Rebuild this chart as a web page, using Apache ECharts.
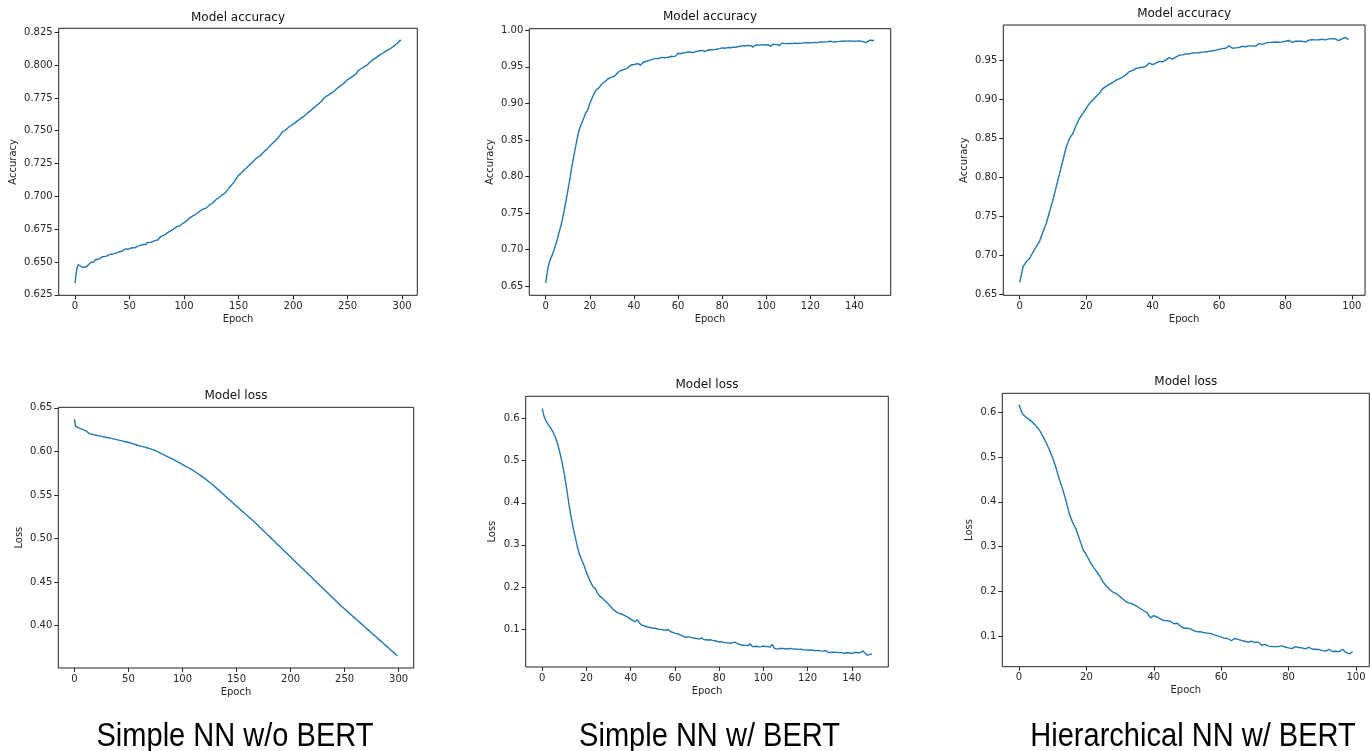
<!DOCTYPE html>
<html><head><meta charset="utf-8">
<script src="https://cdn.jsdelivr.net/npm/echarts@6/dist/echarts.min.js"></script>
<style>html,body{margin:0;padding:0;background:#fff}#c{width:1370px;height:751px}</style>
</head><body><div id="c"></div>
<script>
// ---------- DATA ----------
const acc1 = [
0.634,0.641,0.646,0.648,0.6475,0.647,0.6465,0.646,0.6458,0.6462,
0.647,0.6468,0.6478,0.6485,0.649,0.650,0.6505,0.6498,0.6512,0.652,
0.6525,0.652,0.6532,0.6528,0.6538,0.654,0.6535,0.6542,0.6548,0.6545,
0.655,0.6555,0.6552,0.656,0.6565,0.6562,0.657,0.6568,0.6575,0.6572,
0.6575,0.658,0.6585,0.658,0.659,0.6595,0.6588,0.660,0.6592,0.6598,
0.660,0.6605,0.660,0.661,0.6612,0.6608,0.6618,0.662,0.6615,0.6625,
0.662,0.663,0.6628,0.6635,0.664,0.6632,0.6648,0.6642,0.665,0.6648,
0.665,0.6655,0.666,0.6658,0.6665,0.667,0.6668,0.668,0.669,0.6695,
0.670,0.6712,0.6705,0.672,0.6718,0.6728,0.673,0.6738,0.674,0.6745,
0.675,0.6755,0.6762,0.6765,0.6772,0.6778,0.6775,0.6785,0.679,0.6798,
0.680,0.6808,0.681,0.682,0.6828,0.6835,0.684,0.6848,0.6852,0.686,
0.686,0.6868,0.6872,0.6878,0.6885,0.689,0.6895,0.690,0.6905,0.6908,
0.691,0.6918,0.6925,0.6932,0.6938,0.694,0.6948,0.6955,0.6965,0.697,
0.698,0.6985,0.6992,0.6998,0.7005,0.701,0.7015,0.7025,0.703,0.704,
0.705,0.706,0.7072,0.708,0.709,0.710,0.7112,0.7125,0.7138,0.7148,
0.716,0.7165,0.7175,0.718,0.7192,0.720,0.7208,0.7215,0.7222,0.7232,
0.724,0.7245,0.7255,0.726,0.7272,0.7278,0.7288,0.7295,0.730,0.731,
0.731,0.7322,0.7328,0.7338,0.7345,0.735,0.736,0.7368,0.7378,0.7385,
0.7395,0.740,0.741,0.742,0.7428,0.7435,0.7445,0.7455,0.7465,0.7478,
0.749,0.749,0.750,0.7505,0.7512,0.752,0.7528,0.7532,0.7538,0.7545,
0.755,0.7558,0.7562,0.757,0.7575,0.758,0.7588,0.7595,0.760,0.7605,
0.761,0.7618,0.7625,0.7632,0.764,0.7645,0.7652,0.766,0.7668,0.7672,
0.768,0.7688,0.7695,0.770,0.771,0.772,0.7725,0.7735,0.7745,0.7752,
0.776,0.7765,0.777,0.7775,0.778,0.7785,0.779,0.7798,0.7805,0.781,
0.782,0.7825,0.7832,0.784,0.7845,0.785,0.7858,0.7865,0.7872,0.788,
0.789,0.7885,0.7898,0.790,0.791,0.7915,0.7922,0.793,0.7935,0.7945,
0.796,0.7962,0.797,0.7975,0.798,0.7985,0.7992,0.7998,0.800,0.801,
0.802,0.8028,0.8032,0.8038,0.8045,0.805,0.8055,0.806,0.8068,0.8075,
0.808,0.8085,0.809,0.8095,0.810,0.8105,0.811,0.8115,0.812,0.8125,
0.813,0.8138,0.8142,0.815,0.8155,0.816,0.8168,0.8175,0.819,0.8185];

const loss1 = [
0.637,0.629,0.628,0.6275,0.627,0.6265,0.626,0.6255,0.625,0.6245,
0.624,0.6235,0.6225,0.621,0.6205,0.620,0.6198,0.6195,0.619,0.6188,
0.6185,0.6182,0.618,0.6178,0.6175,0.6172,0.617,0.6167,0.6165,0.6162,
0.616,0.6157,0.6155,0.6152,0.615,0.6147,0.6144,0.6141,0.6138,0.6135,
0.6132,0.6129,0.6126,0.6123,0.612,0.6117,0.6114,0.6111,0.6108,0.6105,
0.6102,0.6099,0.6095,0.6092,0.6088,0.6084,0.608,0.6076,0.6072,0.6068,
0.6064,0.6061,0.6058,0.6055,0.6052,0.6049,0.6046,0.6042,0.6038,0.6034,
0.603,0.6026,0.6022,0.6018,0.6014,0.601,0.6003,0.5997,0.599,0.5983,
0.5977,0.5971,0.5965,0.5959,0.5953,0.5947,0.5941,0.5935,0.5929,0.5923,
0.5917,0.5911,0.5904,0.5897,0.589,0.5884,0.5877,0.587,0.5864,0.5857,
0.585,0.5843,0.5836,0.5829,0.5822,0.5815,0.5808,0.5801,0.5794,0.5787,
0.578,0.5772,0.5763,0.5755,0.5746,0.5738,0.5729,0.5721,0.5712,0.5704,
0.5695,0.5685,0.5675,0.5665,0.5655,0.5645,0.5635,0.5625,0.5615,0.5605,
0.5595,0.5584,0.5573,0.5561,0.555,0.5539,0.5528,0.5517,0.5506,0.5494,
0.5483,0.5472,0.5461,0.5449,0.5438,0.5427,0.5416,0.5405,0.5393,0.5382,
0.5372,0.5361,0.535,0.5339,0.5328,0.5317,0.5306,0.5295,0.5284,0.5273,
0.5262,0.5251,0.524,0.5229,0.5218,0.5207,0.5196,0.5184,0.5172,0.516,
0.5148,0.5136,0.5124,0.5112,0.51,0.5088,0.5076,0.5064,0.5052,0.504,
0.5028,0.5016,0.5004,0.4992,0.498,0.4968,0.4956,0.4944,0.4932,0.492,
0.4908,0.4896,0.4884,0.4872,0.486,0.4848,0.4836,0.4824,0.4812,0.48,
0.4788,0.4776,0.4764,0.4752,0.474,0.4728,0.4716,0.4704,0.4692,0.468,
0.4668,0.4656,0.4644,0.4632,0.462,0.4608,0.4596,0.4584,0.4572,0.456,
0.4548,0.4536,0.4524,0.4512,0.45,0.4488,0.4476,0.4464,0.4452,0.444,
0.4428,0.4416,0.4404,0.4392,0.438,0.4368,0.4356,0.4344,0.4332,0.432,
0.4308,0.4296,0.4284,0.4272,0.426,0.4248,0.4236,0.4224,0.4213,0.4202,
0.4191,0.418,0.4169,0.4158,0.4147,0.4136,0.4125,0.4114,0.4103,0.4092,
0.4081,0.407,0.4059,0.4048,0.4037,0.4026,0.4015,0.4004,0.3993,0.3982,
0.3971,0.396,0.3949,0.3938,0.3927,0.3916,0.3905,0.3894,0.3883,0.3872,
0.3861,0.385,0.3839,0.3828,0.3817,0.3806,0.3795,0.3784,0.3773,0.3762,
0.3751,0.374,0.3729,0.3718,0.3707,0.3696,0.3685,0.3674,0.3663,0.3652];

const acc2 = [
0.6546,0.675,0.6865,0.693,0.702,0.7115,0.723,0.734,0.748,0.764,
0.780,0.798,0.8164,0.832,0.848,0.862,0.871,0.878,0.886,0.891,
0.900,0.907,0.914,0.919,0.921,0.925,0.928,0.930,0.933,0.935,
0.936,0.937,0.940,0.943,0.945,0.946,0.947,0.948,0.951,0.953,
0.953,0.954,0.9545,0.952,0.956,0.957,0.958,0.959,0.960,0.961,
0.9617,0.961,0.9625,0.963,0.9625,0.963,0.9635,0.9645,0.964,0.965,
0.9686,0.968,0.969,0.9692,0.970,0.9705,0.970,0.9695,0.971,0.9715,
0.972,0.9725,0.971,0.9725,0.973,0.9735,0.9732,0.974,0.9745,0.975,
0.976,0.9755,0.976,0.9765,0.9762,0.977,0.9768,0.9775,0.978,0.9785,
0.979,0.9788,0.9792,0.979,0.977,0.9795,0.980,0.9798,0.9805,0.980,
0.980,0.9802,0.978,0.981,0.9805,0.9808,0.979,0.9825,0.982,0.9818,
0.982,0.9822,0.9818,0.9825,0.982,0.9825,0.9822,0.9828,0.983,0.9825,
0.983,0.9832,0.9835,0.9832,0.9838,0.984,0.9838,0.9842,0.9845,0.985,
0.9845,0.984,0.9845,0.9848,0.9852,0.985,0.9855,0.9852,0.9855,0.9852,
0.985,0.9852,0.9855,0.985,0.9845,0.983,0.9845,0.9865,0.986,0.986];

const loss2 = [
0.6238,0.6024,0.592,0.584,0.576,0.567,0.555,0.539,0.519,0.4954,
0.468,0.436,0.400,0.3686,0.341,0.317,0.293,0.275,0.262,0.250,
0.234,0.222,0.210,0.2006,0.196,0.186,0.178,0.1745,0.169,0.164,
0.159,0.153,0.147,0.143,0.139,0.137,0.135,0.133,0.130,0.127,
0.1235,0.120,0.117,0.122,0.114,0.109,0.108,0.106,0.104,0.1035,
0.1016,0.102,0.100,0.099,0.0985,0.0976,0.097,0.099,0.094,0.092,
0.0897,0.089,0.087,0.085,0.082,0.080,0.082,0.080,0.079,0.078,
0.077,0.076,0.079,0.075,0.0745,0.074,0.0745,0.073,0.072,0.071,
0.069,0.070,0.068,0.0675,0.067,0.066,0.067,0.069,0.066,0.064,
0.062,0.0615,0.061,0.0605,0.065,0.058,0.0585,0.059,0.0575,0.058,
0.0596,0.058,0.0585,0.057,0.0636,0.054,0.052,0.0535,0.054,0.0535,
0.053,0.0525,0.054,0.053,0.0525,0.052,0.0515,0.052,0.0508,0.0505,
0.050,0.0495,0.0505,0.049,0.0485,0.049,0.048,0.0475,0.049,0.0455,
0.0437,0.045,0.0448,0.0445,0.044,0.0438,0.043,0.0425,0.0435,0.043,
0.042,0.0435,0.0445,0.043,0.0445,0.048,0.042,0.038,0.039,0.0405];

const acc3 = [
0.665,0.685,0.6916,0.696,0.704,0.711,0.718,0.730,0.741,0.756,
0.771,0.788,0.805,0.822,0.839,0.850,0.8565,0.867,0.876,0.882,
0.8887,0.895,0.8995,0.904,0.908,0.914,0.917,0.9195,0.922,0.925,
0.927,0.929,0.932,0.936,0.9375,0.940,0.941,0.9415,0.943,0.947,
0.945,0.947,0.949,0.9485,0.951,0.954,0.952,0.9545,0.957,0.9575,
0.9586,0.959,0.9598,0.960,0.9602,0.961,0.9612,0.962,0.9628,0.9635,
0.9646,0.9655,0.966,0.969,0.966,0.9665,0.967,0.9685,0.968,0.969,
0.969,0.9685,0.972,0.971,0.9725,0.9736,0.9735,0.974,0.9738,0.9742,
0.975,0.976,0.9735,0.975,0.9752,0.975,0.9738,0.9765,0.977,0.9768,
0.977,0.9775,0.9768,0.978,0.9782,0.978,0.9757,0.978,0.980,0.977];

const loss3 = [
0.617,0.597,0.5896,0.5836,0.578,0.570,0.561,0.548,0.533,0.517,
0.498,0.476,0.450,0.4274,0.4013,0.3716,0.353,0.338,0.3158,0.2935,
0.282,0.2674,0.2548,0.245,0.234,0.2205,0.2116,0.204,0.198,0.195,
0.188,0.182,0.176,0.174,0.171,0.167,0.162,0.157,0.153,0.141,
0.146,0.143,0.139,0.135,0.135,0.133,0.128,0.129,0.122,0.118,
0.118,0.116,0.112,0.110,0.110,0.108,0.107,0.106,0.103,0.101,
0.098,0.096,0.095,0.090,0.095,0.093,0.091,0.089,0.087,0.089,
0.086,0.087,0.080,0.082,0.078,0.077,0.077,0.077,0.0785,0.076,
0.074,0.0725,0.077,0.075,0.074,0.072,0.0755,0.071,0.071,0.0705,
0.068,0.067,0.071,0.066,0.0665,0.0658,0.071,0.064,0.0606,0.065];

// tick labels
const xTicks300 = [0,50,100,150,200,250,300];
const xTicks150 = [0,20,40,60,80,100,120,140];
const xTicks100 = [0,20,40,60,80,100];
const yTicksAcc1 = [0.625,0.650,0.675,0.700,0.725,0.750,0.775,0.800,0.825];
const yTicksAcc2 = [0.65,0.70,0.75,0.80,0.85,0.90,0.95,1.00];
const yTicksAcc3 = [0.65,0.70,0.75,0.80,0.85,0.90,0.95];
const yTicksLoss1 = [0.40,0.45,0.50,0.55,0.60,0.65];
const yTicksLoss2 = [0.1,0.2,0.3,0.4,0.5,0.6];
const yTicksLoss3 = [0.1,0.2,0.3,0.4,0.5,0.6];

const panelTitles = ['Model accuracy','Model accuracy','Model accuracy','Model loss','Model loss','Model loss'];
const yNames = ['Accuracy','Accuracy','Accuracy','Loss','Loss','Loss'];
const captions = ['Simple NN w/o BERT','Simple NN w/ BERT','Hierarchical NN w/ BERT'];

// ---------- LAYOUT ----------
const FONT = 'DejaVu Sans';
const TXT = '#262626';
const panels = [
  {data:acc1, grid:[58.7,28.3,417.3,295.3], x:[-14.95,313.95], y:[0.6247,0.828], xt:xTicks300, yt:yTicksAcc1, dec:3, nameGap:40, titleY:17.5},
  {data:acc2, grid:[529.3,28.7,890.7,295.3], x:[-7.45,156.45], y:[0.6377,1.0022], xt:xTicks150, yt:yTicksAcc2, dec:2, nameGap:34, titleY:17},
  {data:acc3, grid:[1003.3,25,1365,295.3], x:[-4.95,103.95], y:[0.6483,0.9959], xt:xTicks100, yt:yTicksAcc3, dec:2, nameGap:34, titleY:14.3},
  {data:loss1, grid:[58.3,407.3,413.7,668], x:[-14.95,313.95], y:[0.3514,0.6506], xt:xTicks300, yt:yTicksLoss1, dec:2, nameGap:34, titleY:396},
  {data:loss2, grid:[525.7,396.3,888.3,667], x:[-7.45,156.45], y:[0.0097,0.653], xt:xTicks150, yt:yTicksLoss2, dec:1, nameGap:28, titleY:385},
  {data:loss3, grid:[1002.3,393.3,1369.3,666.7], x:[-4.95,103.95], y:[0.0321,0.6424], xt:xTicks100, yt:yTicksLoss3, dec:1, nameGap:28, titleY:381.7}
];

const grids=[], xAxes=[], yAxes=[], series=[], graphics=[];
panels.forEach((p,i)=>{
  const [l,t,r,b]=p.grid;
  grids.push({left:l,top:t,width:r-l,height:b-t,show:true,borderColor:'#222',borderWidth:1,backgroundColor:'transparent',containLabel:false});
  xAxes.push({type:'value',gridIndex:i,min:p.x[0],max:p.x[1],position:'bottom',
    axisLine:{show:false,onZero:false},splitLine:{show:false},
    axisTick:{show:true,length:4,lineStyle:{color:'#222',width:1},customValues:p.xt},
    axisLabel:{customValues:p.xt,fontSize:10,color:TXT,fontFamily:FONT,margin:6,formatter:v=>String(Math.round(v))},
    name:'Epoch',nameLocation:'middle',nameGap:19,nameTextStyle:{fontSize:10,color:TXT,fontFamily:FONT}});
  yAxes.push({type:'value',gridIndex:i,min:p.y[0],max:p.y[1],position:'left',
    axisLine:{show:false,onZero:false},splitLine:{show:false},
    axisTick:{show:true,length:4,lineStyle:{color:'#222',width:1},customValues:p.yt},
    axisLabel:{customValues:p.yt,fontSize:10,color:TXT,fontFamily:FONT,margin:6,formatter:v=>v.toFixed(p.dec)},
    name:yNames[i],nameLocation:'middle',nameGap:p.nameGap,nameTextStyle:{fontSize:10,color:TXT,fontFamily:FONT}});
  series.push({type:'line',xAxisIndex:i,yAxisIndex:i,data:p.data.map((v,k)=>[k,v]),
    symbol:'none',lineStyle:{color:'#1f77b4',width:1.4},animation:false,silent:true});
  graphics.push({type:'text',x:(l+r)/2,y:p.titleY,
    style:{text:panelTitles[i],font:'12px "DejaVu Sans"',fill:'#111',textAlign:'center',textVerticalAlign:'middle',align:'center',verticalAlign:'middle'}});
});
const capX=[235,709.5,1193];
captions.forEach((c,i)=>{
  graphics.push({type:'text',x:capX[i],y:737,scaleX:0.88,
    style:{text:c,font:'33px "Liberation Sans"',fill:'#000',textAlign:'center',textVerticalAlign:'middle',align:'center',verticalAlign:'middle'}});
});

const chart=echarts.init(document.getElementById('c'),null,{renderer:'canvas'});
chart.setOption({animation:false,backgroundColor:'#fff',grid:grids,xAxis:xAxes,yAxis:yAxes,series:series,graphic:graphics});
</script></body></html>
